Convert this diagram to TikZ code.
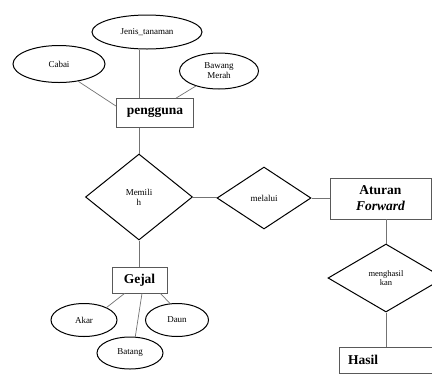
\documentclass[tikz,border=0pt]{standalone}
\usepackage{fontspec}
\setmainfont{Liberation Serif}
\usetikzlibrary{shapes.geometric, calc, positioning}

\tikzset{
    entitas/.style={draw=black!65, line width=0.7pt, rectangle, inner sep=0pt, font=\fontsize{13.5}{16}\selectfont\bfseries, align=center},
    atribut/.style={draw, ellipse, line width=1pt, inner sep=0pt, font=\fontsize{9}{10}\selectfont, align=center},
    relasi/.style={draw, diamond, line width=1pt, inner sep=0pt, font=\fontsize{9}{10}\selectfont, align=center},
    garis/.style={draw=black!55, line width=0.7pt}
}

\begin{document}
\begin{tikzpicture}[x=1pt, y=-1pt]
        \clip (0, 0) rectangle (432, 376);
        \node[entitas, minimum width=77, minimum height=29] (Pengguna) at (155, 113) {pengguna};
        \node[atribut, minimum width=110, minimum height=34] (Jenis) at (147, 32) {Jenis\_tanaman};
        \node[atribut, minimum width=92, minimum height=37] (Cabai) at (59, 64) {Cabai};
        \node[atribut, minimum width=79, minimum height=36] (Bawang) at (219, 71) {Bawang\\Merah};
        \node[relasi, minimum width=107, minimum height=86] (Memilih) at (139, 197) {Memili\\h};
        \node[relasi, minimum width=94, minimum height=62] (Melalui) at (264, 198) {melalui};
        \node[entitas, minimum width=101, minimum height=41] (Aturan) at (380.5, 198.5) {Aturan\\\textit{Forward}};
        \node[relasi, minimum width=116, minimum height=68, font=\fontsize{8.5}{9.5}\selectfont] (Menghasil) at (386, 278) {menghasil\\kan};
        \node[entitas, minimum width=110, minimum height=26, text width=92, align=left] (Hasil) at (394, 360) {Hasil};
        \node[entitas, minimum width=55, minimum height=26] (Gejal) at (139.5, 280) {Gejal};
        \node[atribut, minimum width=66, minimum height=33] (Akar) at (84, 320) {Akar};
        \node[atribut, minimum width=63, minimum height=33] (Daun) at (177, 320) {Daun};
        \node[atribut, minimum width=66, minimum height=32] (Batang) at (130, 353) {Batang};

        % pengguna
        \draw[garis] (Cabai.-42) -- (Pengguna.170);
        \draw[garis] (Memilih.north |- Jenis.south) -- (Memilih.north |- Pengguna.north);
        \draw[garis] (Bawang.213) -- ($(Pengguna.north)+(21, 0)$);
        \draw[garis] (Memilih.north |- Pengguna.south) -- (Memilih.north);

        % relasi
        \draw[garis] (Memilih.east) -- (Memilih.east -| Melalui.west);
        \draw[garis] (Melalui.east) -- (Melalui.east -| Aturan.west);
        \draw[garis] (Menghasil.north |- Aturan.south) -- (Menghasil.north);
        \draw[garis] (Menghasil.south) -- (Menghasil.south |- Hasil.north);
        \draw[garis] (Memilih.south) -- (Memilih.south |- Gejal.north);

        % gejal
        \draw[garis] ($(Gejal.south west)+(13, 0)$) -- (Akar.29);
        \draw[garis] ($(Gejal.south)+(2.5, 0)$) -- (Batang.72);
        \draw[garis] ($(Gejal.south east)+(-7, 0)$) -- (Daun.113);
\end{tikzpicture}
\end{document}
